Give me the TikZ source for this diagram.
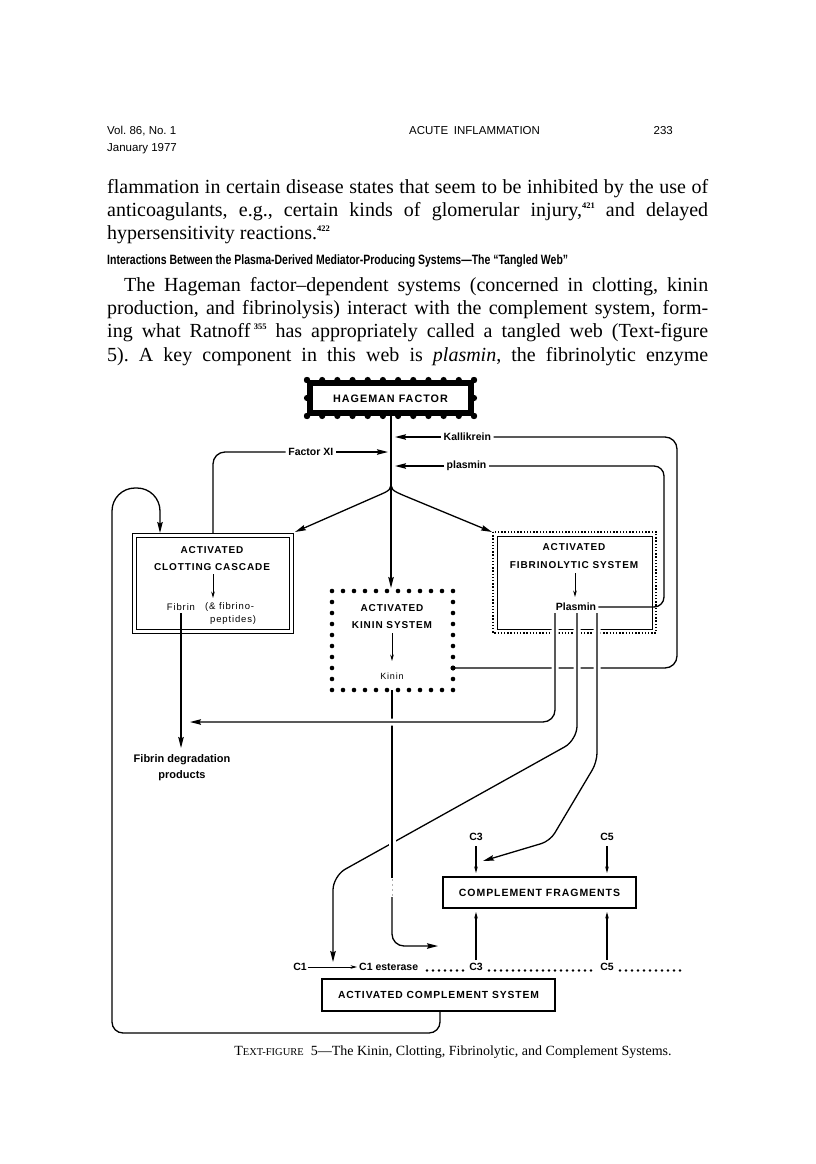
\documentclass[tikz,border=0pt]{standalone}
\usepackage{fontspec}
\setmainfont{Liberation Serif}
\setsansfont{Liberation Sans}
\newfontfamily\lsp[LetterSpace=9]{Liberation Sans}
\usetikzlibrary{arrows.meta}
\newcommand{\refnum}[1]{\raisebox{7.5pt}{\fontsize{8.5}{8.5}\selectfont\bfseries #1}}
\frenchspacing
\begin{document}
\begin{tikzpicture}[x=1pt,y=-1pt,
  hd/.style={font=\fontsize{11.5}{12}\selectfont\sffamily, inner sep=0pt},
  bt/.style={font=\fontsize{20}{22}\selectfont, inner sep=0pt, anchor=base west},
  ln/.style={line width=1.3pt},
  thn/.style={line width=0.9pt},
  arr/.style={-{Stealth[length=11pt,width=5.5pt,inset=1.5pt]}},
  sarr/.style={-{Stealth[length=6.5pt,width=3.6pt]}},
  halo/.style={preaction={draw=white,line width=7pt,-}},
  box/.style={font=\fontsize{10}{11}\selectfont\lsp\bfseries, inner sep=0pt},
  lab/.style={font=\fontsize{10.5}{12}\selectfont\sffamily\bfseries, inner sep=2.5pt},
  sml/.style={font=\fontsize{9.5}{10}\selectfont\lsp, inner sep=0pt}
]
\fill[white] (0,0) rectangle (816,1164);
\useasboundingbox (0,0) rectangle (816,1164);

% ---------- page text ----------
\node[hd, anchor=base west] (h1) at (107,134) {Vol. 86, No. 1};
\node[hd, anchor=base west] (h2) at (107,151) {January 1977};
\node[hd, anchor=base west] (h3) at (409,134) {ACUTE\hspace{0.5em}INFLAMMATION};
\node[hd, anchor=base east] (h4) at (673,134) {233};

\node[bt] (b1) at (107,193) {\makebox[601pt][s]{flammation in certain disease states that seem to be inhibited by the use of}};
\node[bt] (b2) at (107,216) {\makebox[601pt][s]{anticoagulants, e.g., certain kinds of glomerular injury,\refnum{421} and delayed}};
\node[bt] (b3) at (107,239) {hypersensitivity reactions.\refnum{422}};
\node[anchor=base west, inner sep=0pt, font=\fontsize{13.5}{14}\selectfont\sffamily\bfseries] (hh) at (107,264)
  {\resizebox{461pt}{\height}{Interactions Between the Plasma-Derived Mediator-Producing Systems---The ``Tangled Web''}};
\node[bt] (p1) at (124,291) {\makebox[584pt][s]{The Hageman factor--dependent systems (concerned in clotting, kinin}};
\node[bt] (p2) at (107,314) {\makebox[601pt][s]{production, and fibrinolysis) interact with the complement system, form-}};
\node[bt] (p3) at (107,337) {\makebox[601pt][s]{ing what Ratnoff\,\refnum{355} has appropriately called a tangled web (Text-figure}};
\node[bt] (p4) at (107,361) {\makebox[601pt][s]{5). A key component in this web is \textit{plasmin}, the fibrinolytic enzyme}};

% ---------- Hageman factor stamp ----------
\fill (307,380) rectangle (474,416);
\foreach \i in {0,...,11} {\fill (307+\i*15.18,380) circle (3.1); \fill (307+\i*15.18,416) circle (3.1);}
\foreach \j in {0,1,2} {\fill (307,380+\j*18) circle (3.1); \fill (474,380+\j*18) circle (3.1);}
\fill[white] (313,386) rectangle (468,410);
\node[box, font=\fontsize{10.8}{11}\selectfont\lsp\bfseries] (hag) at (390.5,398.5) {HAGEMAN FACTOR};
\coordinate (hagb) at (391,416);
\coordinate (split) at (391,480);

% ---------- inputs to main line ----------
\node[lab, anchor=west] (kal) at (441,437) {Kallikrein};
\node[lab, anchor=east] (fxi) at (336,452) {Factor XI};
\node[lab, anchor=west] (pls) at (444,466) {plasmin};

% ---------- boxes ----------
% clotting
\draw[thn] (132,533) rectangle (293,633);
\draw[thn] (136,537) rectangle (289,629);
\coordinate (clotTR) at (295,532);
\coordinate (clotTL) at (160,533);
\node[box] (ac1) at (212,550) {ACTIVATED};
\node[box] (ac2) at (212,567) {CLOTTING CASCADE};
\node[sml] (fibrin) at (181,607) {Fibrin};
\node[sml, anchor=west] (fp1) at (205,607) {(\& fibrino-};
\node[sml, anchor=west] (fp2) at (210,620) {peptides)};
\draw[thn, sarr] (213,574) -- (213,598);

% fibrinolytic
\draw[line width=1.4pt, dash pattern=on 1.4pt off 1.8pt] (493,532) rectangle (656,633);
\draw[thn] (497,536) rectangle (652,629);
\coordinate (fibTL) at (492,532);
\node[box] (af1) at (574,547) {ACTIVATED};
\node[box] (af2) at (574,565) {FIBRINOLYTIC SYSTEM};
\draw[thn, sarr] (575,573) -- (575,597);
\node[lab, inner sep=2pt] (plm) at (576,607) {Plasmin};

% kinin text
\node[box] (ak1) at (392,608) {ACTIVATED};
\node[box] (ak2) at (392,625) {KININ SYSTEM};
\draw[thn, sarr] (392,633) -- (392,661);
\node[sml, font=\fontsize{9}{10}\selectfont\lsp] (kin) at (392,676) {Kinin};
\coordinate (kinR) at (453,668);
\coordinate (kinB) at (392,690);
\coordinate (kinT) at (391,588);

% ---------- main Hageman lines ----------
\draw[ln] (hagb) -- (split);
\draw[ln, arr] (split) .. controls (391,490) .. (377,496) -- (clotTR);
\draw[ln, arr] (split) .. controls (391,490) .. (405,496) -- (fibTL);
\draw[ln, arr] (split) -- (kinT);

\draw[ln, arr] (kal.west) -- (395,437);
\draw[ln, arr] (pls.west) -- (395,466);
\draw[ln, arr] (fxi.east) -- (388,452);
\draw[ln, rounded corners=12pt] (fxi.west) -- (213,452) -- (213,533);
\draw[ln, rounded corners=12pt] (kal.east) -- (677,437) -- (677,668) -- (kinR);
\draw[ln, rounded corners=10pt] (pls.east) -- (664,466) -- (664,607) -- (plm.east);

% ---------- plasmin outputs ----------
\node[lab, inner sep=0pt] (c3t) at (476,837) {C3};
\node[lab, inner sep=0pt] (c5t) at (607,837) {C5};
\draw[ln, halo, arr, rounded corners=9pt] (597,613) -- (597,762) -- (550,841) -- (483,861);
\draw[ln, halo, arr, rounded corners=14pt] (577,613) -- (577,740) -- (333,876) -- (333,962);
% kinin vertical
\draw[ln, halo] (kinB) -- (392,878);
\draw[gray!60, line width=0.6pt, dash pattern=on 2pt off 3pt] (392,879) -- (392,897);
\draw[ln, arr, rounded corners=12pt] (392,897) -- (392,946) -- (438,946);
\draw[ln, halo, arr, rounded corners=12pt] (555,613) -- (555,722) -- (190,722);

% kinin box dots
\foreach \i in {0,...,11} {\fill (332+\i*11,591) circle (2.3); \fill (332+\i*11,690) circle (2.3);}
\foreach \j in {1,...,8} {\fill (332,591+\j*11) circle (2.3); \fill (453,591+\j*11) circle (2.3);}
\fill (kinR) circle (2.5);

% fibrin degradation
\draw[ln, arr] (181,613) -- (181,748);
\node[lab, inner sep=0pt, font=\fontsize{11}{12}\selectfont\sffamily\bfseries] (fdp1) at (182,760) {Fibrin degradation};
\node[lab, inner sep=0pt, font=\fontsize{11}{12}\selectfont\sffamily\bfseries] (fdp2) at (182,776) {products};

% ---------- complement ----------
\node[draw, line width=1.3pt, minimum width=193pt, minimum height=31pt, box, font=\fontsize{10.5}{11}\selectfont\lsp\bfseries] (cf) at (539.5,892.5) {COMPLEMENT FRAGMENTS};
\draw[ln, sarr] (476,846) -- (476,873);
\draw[ln, sarr] (607,846) -- (607,873);
\draw[ln, sarr] (476,960) -- (476,912);
\draw[ln, sarr] (607,960) -- (607,912);

\node[lab, inner sep=0pt] (c1) at (300,967) {C1};
\node[lab, inner sep=0pt, anchor=west] (c1e) at (359,967) {C1 esterase};
\node[lab, inner sep=0pt] (c3b) at (476,967) {C3};
\node[lab, inner sep=0pt] (c5b) at (607,967) {C5};
\draw[thn, sarr] (c1.east) ++(1,0) -- (357,967);
\foreach \i in {0,...,6} {\fill (427+\i*6,970.5) circle (1.4);}
\foreach \i in {0,...,17} {\fill (489+\i*6,970.5) circle (1.4);}
\foreach \i in {0,...,10} {\fill (620+\i*6,970.5) circle (1.4);}

\node[draw, line width=1.3pt, minimum width=233pt, minimum height=32pt, box, font=\fontsize{10.3}{11}\selectfont\lsp\bfseries] (acs) at (438.5,995) {ACTIVATED COMPLEMENT SYSTEM};

% big feedback loop
\draw[ln, arr] (440,1011) [rounded corners=11pt] -- (440,1033) -- (112,1033) [rounded corners=23pt] -- (112,488) -- (160,488) -- (clotTL);

% caption
\node[inner sep=0pt, font=\fontsize{14}{15}\selectfont, anchor=base] (cap) at (453,1055)
  {T{\fontsize{10.5}{11}\selectfont EXT-FIGURE}\ \ 5---The Kinin, Clotting, Fibrinolytic, and Complement Systems.};
\end{tikzpicture}
\end{document}
